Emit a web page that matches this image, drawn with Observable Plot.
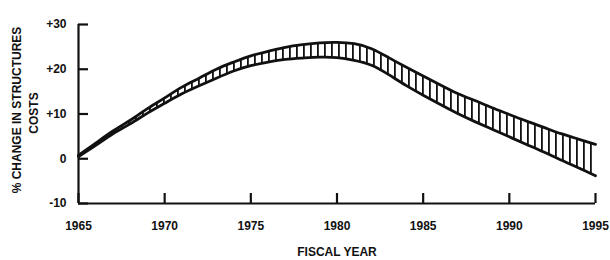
<!DOCTYPE html>
<html>
<head>
<meta charset="utf-8">
<script src="https://cdn.jsdelivr.net/npm/d3@7"></script>
<script src="https://cdn.jsdelivr.net/npm/@observablehq/plot@0.6"></script>
<style>
  html, body { margin: 0; padding: 0; background: #fff; }
  svg { font-family: "Liberation Sans", Arial, sans-serif; }
</style>
</head>
<body>
<div id="chart"></div>
<script>
const years = [1965,1966,1967,1968,1969,1970,1971,1972,1973,1974,1975,1976,1977,1978,1979,1980,1981,1982,1983,1984,1985,1986,1987,1988,1989,1990,1991,1992,1993,1994,1995];
const upper = [0.8,3.5,6.2,8.6,11.2,13.6,16.0,18.0,20.0,21.6,23.0,24.0,24.9,25.5,25.9,26.0,25.7,24.6,22.6,20.5,18.5,16.5,14.6,13.0,11.4,9.9,8.4,7.0,5.6,4.4,3.2];
const lower = [0.5,3.0,5.6,7.8,10.2,12.4,14.5,16.3,18.0,19.6,20.8,21.6,22.2,22.5,22.7,22.6,22.0,20.9,18.8,16.4,14.2,12.1,10.1,8.3,6.6,4.9,3.2,1.5,-0.3,-2.0,-3.8];
const xTicks = [1965,1970,1975,1980,1985,1990,1995];
const yTicks = [-10,0,10,20,30];
const xTitle = "FISCAL YEAR";
const yTitle1 = "% CHANGE IN STRUCTURES";
const yTitle2 = "COSTS";

const data = years.map((year, i) => ({year, upper: upper[i], lower: lower[i]}));

const W = 610, H = 260, ML = 78, MR = 15, MT = 24, MB = 57, TICK = 10;
const xDom = [1965, 1995], yDom = [-10, 30];
// tick length of TICK pixels expressed in data units
const xTickLen = TICK * (yDom[1] - yDom[0]) / (H - MT - MB);
const yTickLen = TICK * (xDom[1] - xDom[0]) / (W - ML - MR);

const chart = Plot.plot({
  width: W,
  height: H,
  marginLeft: ML,
  marginRight: MR,
  marginTop: MT,
  marginBottom: MB,
  style: {fontFamily: "Liberation Sans, Arial, sans-serif", fontSize: "12px", fontWeight: "bold", color: "#111", background: "#fff"},
  x: {domain: xDom, axis: null},
  y: {domain: yDom, axis: null},
  marks: [
    Plot.areaY(data, {x: "year", y1: "lower", y2: "upper", fill: "url(#hatch)", curve: "natural"}),
    Plot.line(data, {x: "year", y: "upper", stroke: "#111", strokeWidth: 2.8, curve: "natural"}),
    Plot.line(data, {x: "year", y: "lower", stroke: "#111", strokeWidth: 2.8, curve: "natural"}),
    Plot.axisX({ticks: xTicks, tickSize: 0, tickPadding: 18, tickFormat: d => String(d), fontSize: 12, fontWeight: "bold", fill: "#111", label: null}),
    Plot.axisY({ticks: yTicks, tickSize: 0, tickPadding: 12, tickFormat: d => d > 0 ? "+" + d : String(d), fontSize: 12, fontWeight: "bold", fill: "#111", label: null}),
    Plot.ruleX(xTicks, {x: d => d, y1: yDom[0], y2: yDom[0] + xTickLen, stroke: "#111", strokeWidth: 2.2}),
    Plot.ruleY(yTicks, {y: d => d, x1: xDom[0], x2: xDom[0] + yTickLen, stroke: "#111", strokeWidth: 2.2}),
    Plot.ruleX([1965], {stroke: "#111", strokeWidth: 2.2}),
    Plot.ruleY([-10], {stroke: "#111", strokeWidth: 2.2}),
    Plot.text([xTitle], {frameAnchor: "bottom", dy: 52, fontSize: 12, fontWeight: "bold", fill: "#111", text: d => d, letterSpacing: 1}),
    Plot.text([yTitle1], {frameAnchor: "left", textAnchor: "middle", rotate: -90, dx: -61, dy: -4, fontSize: 12, fontWeight: "bold", fill: "#111", text: d => d, letterSpacing: 0.8}),
    Plot.text([yTitle2], {frameAnchor: "left", textAnchor: "middle", rotate: -90, dx: -44, dy: -1, fontSize: 12, fontWeight: "bold", fill: "#111", text: d => d, letterSpacing: 0.8})
  ]
});

const ns = "http://www.w3.org/2000/svg";
const defs = document.createElementNS(ns, "defs");
const pat = document.createElementNS(ns, "pattern");
pat.setAttribute("id", "hatch");
pat.setAttribute("patternUnits", "userSpaceOnUse");
pat.setAttribute("width", "7");
pat.setAttribute("height", "10");
const r = document.createElementNS(ns, "rect");
r.setAttribute("x", "2");
r.setAttribute("y", "0");
r.setAttribute("width", "1.8");
r.setAttribute("height", "10");
r.setAttribute("fill", "#111");
pat.appendChild(r);
defs.appendChild(pat);
chart.insertBefore(defs, chart.firstChild);

document.getElementById("chart").appendChild(chart);
</script>
</body>
</html>
